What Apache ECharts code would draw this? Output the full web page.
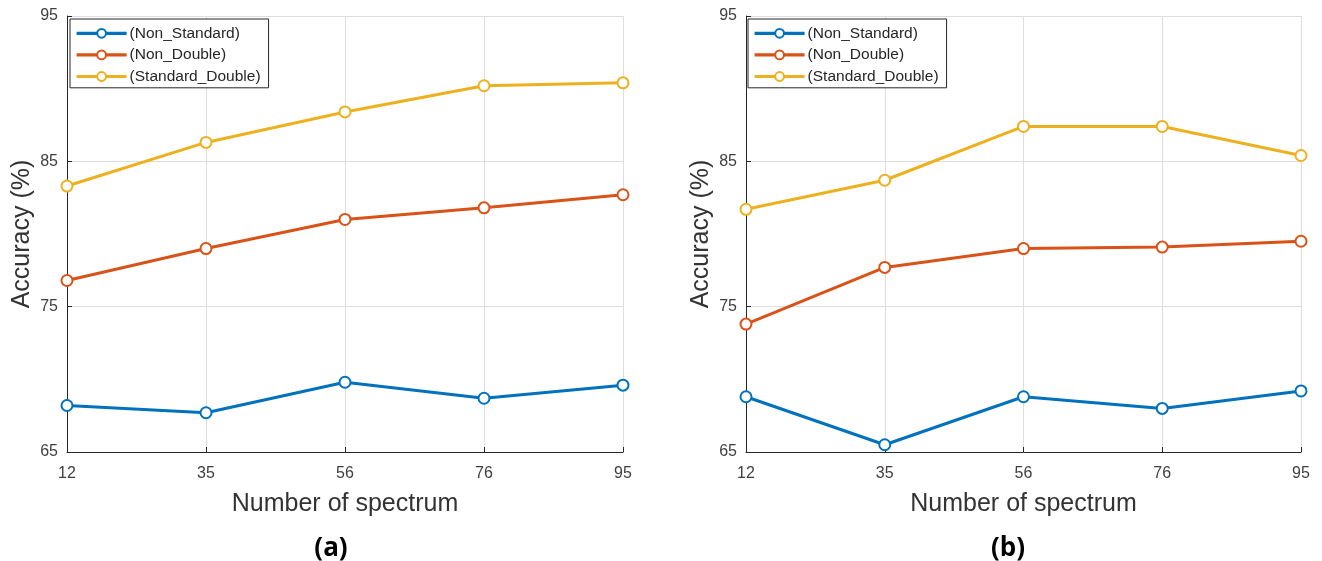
<!DOCTYPE html>
<html>
<head>
<meta charset="utf-8">
<script src="https://cdn.jsdelivr.net/npm/echarts@6/dist/echarts.min.js"></script>
<style>
html,body{margin:0;padding:0;background:#fff;}
#chart{width:1322px;height:561px;}
</style>
</head>
<body>
<div id="chart"></div>
<script>
const categories = ['12', '35', '56', '76', '95'];
const seriesNames = ['(Non_Standard)', '(Non_Double)', '(Standard_Double)'];
const colors = ['#0072BD', '#D95319', '#EDB120'];
// Panel (a)
const a_nonStandard = [68.2, 67.7, 69.8, 68.7, 69.6];
const a_nonDouble = [76.8, 79.0, 81.0, 81.8, 82.7];
const a_standardDouble = [83.3, 86.3, 88.4, 90.2, 90.4];
// Panel (b)
const b_nonStandard = [68.8, 65.5, 68.8, 68.0, 69.2];
const b_nonDouble = [73.8, 77.7, 79.0, 79.1, 79.5];
const b_standardDouble = [81.7, 83.7, 87.4, 87.4, 85.4];
const yMin = 65, yMax = 95, yStep = 10;
const panelTitles = ['(a)', '(b)'];
const xName = 'Number of spectrum';
const yName = 'Accuracy (%)';

const font = "'Liberation Sans', Arial, sans-serif";
const axisColor = '#262626';

function xAxis(i) {
  return {
    type: 'category', gridIndex: i, data: categories, boundaryGap: false,
    name: xName, nameLocation: 'middle', nameGap: 40,
    nameTextStyle: { fontFamily: font, fontSize: 25, color: '#333' },
    axisLine: { lineStyle: { color: axisColor, width: 1 } },
    axisTick: { inside: true, length: 5, lineStyle: { color: axisColor } },
    axisLabel: { fontFamily: font, fontSize: 16, color: '#404040', margin: 14 },
    splitLine: { show: true, lineStyle: { color: '#dedede', width: 1 } }
  };
}
function yAxis(i) {
  return {
    type: 'value', gridIndex: i, min: yMin, max: yMax, interval: yStep,
    name: yName, nameLocation: 'middle', nameGap: 32,
    nameTextStyle: { fontFamily: font, fontSize: 25, color: '#333' },
    axisLine: { show: true, lineStyle: { color: axisColor, width: 1 } },
    axisTick: { show: true, inside: true, length: 5, lineStyle: { color: axisColor } },
    axisLabel: { fontFamily: font, fontSize: 16, color: '#404040', margin: 9 },
    splitLine: { show: true, lineStyle: { color: '#dedede', width: 1 } }
  };
}
function mkSeries(name, data, idx, gi) {
  return {
    name: name, type: 'line', data: data, xAxisIndex: gi, yAxisIndex: gi,
    symbol: 'emptyCircle', symbolSize: 11, showSymbol: true,
    lineStyle: { color: colors[idx], width: 3 },
    itemStyle: { color: colors[idx], borderWidth: 2.6 },
    emphasis: { disabled: true }
  };
}
function legend(left) {
  return {
    orient: 'vertical', left: left, top: 19,
    data: seriesNames,
    itemWidth: 50, itemHeight: 11, itemGap: 3,
    padding: [5, 8, 2, 5],
    borderColor: '#262626', borderWidth: 1,
    backgroundColor: '#fff',
    lineStyle: { width: 3.2 },
    itemStyle: { borderWidth: 2.4 },
    textStyle: { fontFamily: font, fontSize: 15.5, color: '#262626', lineHeight: 18.6, padding: [0, 0, 0, -2] },
    selectedMode: false
  };
}

const chart = echarts.init(document.getElementById('chart'), null, { renderer: 'canvas' });
chart.setOption({
  animation: false,
  backgroundColor: '#fff',
  grid: [
    { left: 67, right: 699, top: 16, bottom: 109 },
    { left: 746, right: 21, top: 16, bottom: 109 }
  ],
  title: [
    { text: panelTitles[0], left: 331, top: 536, textAlign: 'center', padding: 0,
      textStyle: { fontFamily: "'Open Sans', 'Noto Sans', sans-serif", fontSize: 26, fontWeight: 'bold', color: '#000' } },
    { text: panelTitles[1], left: 1008, top: 536, textAlign: 'center', padding: 0,
      textStyle: { fontFamily: "'Open Sans', 'Noto Sans', sans-serif", fontSize: 26, fontWeight: 'bold', color: '#000' } }
  ],
  legend: [
    Object.assign(legend(70), { id: 'la' }),
    Object.assign(legend(748), { id: 'lb' })
  ],
  xAxis: [xAxis(0), xAxis(1)],
  yAxis: [yAxis(0), yAxis(1)],
  series: [
    mkSeries(seriesNames[0], a_nonStandard, 0, 0),
    mkSeries(seriesNames[1], a_nonDouble, 1, 0),
    mkSeries(seriesNames[2], a_standardDouble, 2, 0),
    mkSeries(seriesNames[0], b_nonStandard, 0, 1),
    mkSeries(seriesNames[1], b_nonDouble, 1, 1),
    mkSeries(seriesNames[2], b_standardDouble, 2, 1)
  ]
});
</script>
</body>
</html>
